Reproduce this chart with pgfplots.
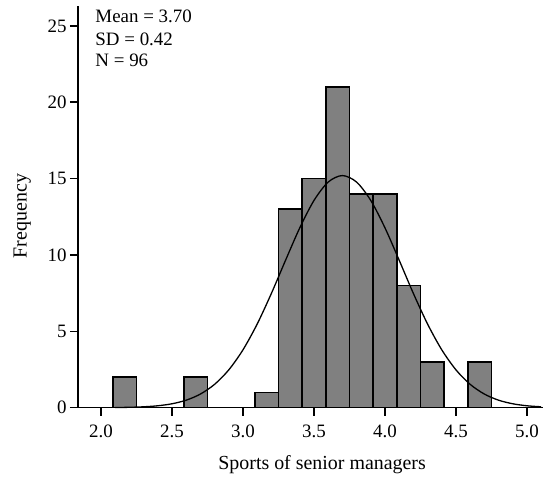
\documentclass[border=0pt]{standalone}
\usepackage{fontspec}
\setmainfont{Liberation Serif}
\usepackage{pgfplots}
\pgfplotsset{compat=1.18}
\definecolor{barfill}{HTML}{808080}

\begin{document}
\begin{tikzpicture}
\begin{axis}[
  scale only axis,
  width=465bp, height=401.7bp,
  xmin=1.838, xmax=5.113,
  ymin=0, ymax=26.3,
  axis x line*=bottom, axis y line*=left,
  x axis line style={-, line width=1.5bp},
  y axis line style={-, line width=1.5bp},
  xtick={2,2.5,...,5}, ytick={0,5,...,25},
  tick align=outside, major tick length=8bp,
  tick style={line width=1.5bp, black},
  /pgf/number format/assume math mode=true,
  xticklabel style={/pgf/number format/fixed, /pgf/number format/fixed zerofill,
    /pgf/number format/precision=1, yshift=-6bp},
  tick label style={font=\fontsize{19}{22}\selectfont},
  xlabel={Sports of senior managers},
  ylabel={Frequency},
  xlabel style={font=\fontsize{20}{24}\selectfont, at={(rel axis cs:0.525,-0.155)}, anchor=base},
  ylabel style={font=\fontsize{20}{24}\selectfont, at={(rel axis cs:-0.120,0.477)}, anchor=center, rotate=0},
  clip=false,
]
% histogram, bin width 1/6
\addplot[ybar, bar width=0.16667, fill=barfill, draw=black, line width=1.5bp] coordinates {
  (2.16667,2) (2.66667,2) (3.16667,1) (3.33333,13) (3.5,15) (3.66667,21)
  (3.83333,14) (4.0,14) (4.16667,8) (4.33333,3) (4.66667,3)
};
% normal curve, mean 3.70, sd 0.42, n 96
\addplot[smooth, black, line width=1.3bp] coordinates {
  (2.1,0.011) (2.2,0.026) (2.3,0.059) (2.4,0.126) (2.5,0.257) (2.6,0.492)
  (2.7,0.893) (2.8,1.530) (2.9,2.477) (3.0,3.790) (3.1,5.478) (3.2,7.482)
  (3.3,9.657) (3.4,11.776) (3.5,13.569) (3.6,14.773) (3.7,15.198)
  (3.8,14.773) (3.9,13.569) (4.0,11.776) (4.1,9.657) (4.2,7.482)
  (4.3,5.478) (4.4,3.790) (4.5,2.477) (4.6,1.530) (4.7,0.893) (4.8,0.492)
  (4.9,0.257) (5.0,0.126) (5.1,0.059)
};
\node[anchor=base west, font=\fontsize{19}{22}\selectfont] at (rel axis cs:0.030,0.9584) {Mean = 3.70};
\node[anchor=base west, font=\fontsize{19}{22}\selectfont] at (rel axis cs:0.030,0.9029) {SD = 0.42};
\node[anchor=base west, font=\fontsize{19}{22}\selectfont] at (rel axis cs:0.030,0.8489) {N = 96};
\end{axis}
\path (-78bp,-72.3bp) rectangle (469bp,407.7bp);
\end{tikzpicture}
\end{document}
